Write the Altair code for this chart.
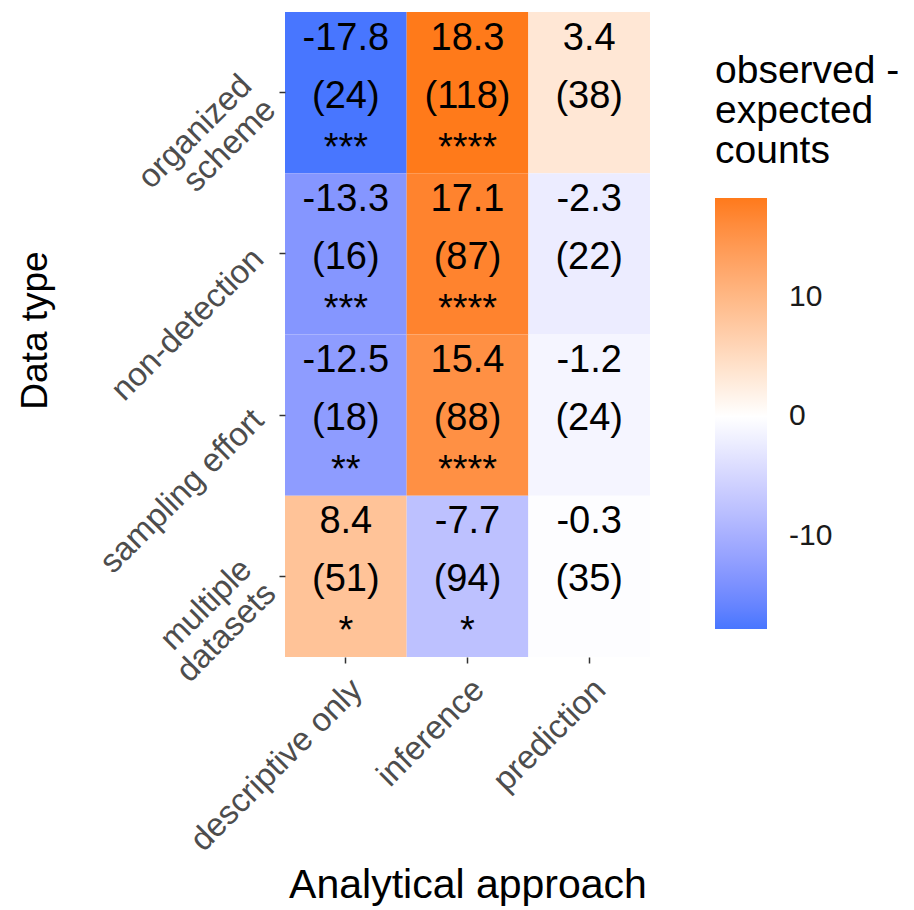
import altair as alt
import pandas as pd

data_types = ["organized scheme", "non-detection", "sampling effort", "multiple datasets"]
approaches = ["descriptive only", "inference", "prediction"]

# observed - expected, per data type (rows) x approach (cols)
diff_values = [
    [-17.8, 18.3, 3.4],
    [-13.3, 17.1, -2.3],
    [-12.5, 15.4, -1.2],
    [8.4, -7.7, -0.3],
]
observed_counts = [
    [24, 118, 38],
    [16, 87, 22],
    [18, 88, 24],
    [51, 94, 35],
]
significance = [
    ["***", "****", ""],
    ["***", "****", ""],
    ["**", "****", ""],
    ["*", "*", ""],
]

rows = []
for i, dt in enumerate(data_types):
    for j, ap in enumerate(approaches):
        rows.append({
            "data_type": dt,
            "approach": ap,
            "diff": diff_values[i][j],
            "diff_label": f"{diff_values[i][j]:.1f}",
            "count_label": f"({observed_counts[i][j]})",
            "stars": significance[i][j],
        })
df = pd.DataFrame(rows)

FONT = "Liberation Sans"
MULTI = "datum.value == 'organized scheme' || datum.value == 'multiple datasets'"

x_enc = alt.X(
    "approach:N",
    sort=approaches,
    title="Analytical approach",
    axis=alt.Axis(
        labelAngle=-45, labelAlign="right", labelBaseline="top",
        labelFontSize=33, labelColor="#4d4d4d", labelPadding=10, labelLimit=500,
        ticks=True, tickColor="#333333", tickSize=6, tickWidth=1.5,
        domain=False, grid=False,
        titleFontSize=41, titleFontWeight="normal", titleColor="black",
        titleY=228, titleBaseline="middle",
    ),
)
y_enc = alt.Y(
    "data_type:N",
    sort=data_types,
    title="Data type",
    axis=alt.Axis(
        labelAngle=-45, labelAlign="right",
        labelBaseline={"condition": {"test": MULTI, "value": "bottom"}, "value": "middle"},
        labelFontSize=33, labelColor="#4d4d4d", labelPadding=21, labelLimit=500,
        labelLineHeight=34,
        labelExpr="datum.value == 'organized scheme' ? ['organized', 'scheme'] : datum.value == 'multiple datasets' ? ['multiple', 'datasets'] : datum.label",
        ticks=True, tickColor="#333333", tickSize=6, tickWidth=1.5,
        domain=False, grid=False,
        titleFontSize=37, titleFontWeight="normal", titleColor="black",
        titleX=-250, titleY=318, titleAngle=-90, titleBaseline="middle",
    ),
)

color_enc = alt.Color(
    "diff:Q",
    scale=alt.Scale(
        domain=[-17.8, 0, 18.3],
        range=["#4876FF", "#FFFFFF", "#FF7A1A"],
        interpolate="lab",
    ),
    legend=alt.Legend(
        title=["observed -", "expected", "counts"],
        orient="none", legendX=430, legendY=40,
        direction="vertical",
        titleFontSize=39, titleFontWeight="normal", titleColor="black",
        titleLineHeight=40, titlePadding=27, titleLimit=300,
        gradientLength=431, gradientThickness=52,
        gradientStrokeWidth=0,
        values=[-10, 0, 10],
        labelExpr="datum.value + ''",
        labelFontSize=30, labelColor="#1a1a1a", labelOffset=22,
    ),
)

base = alt.Chart(df).encode(x=x_enc, y=y_enc)

rect = base.mark_rect().encode(color=color_enc)
t1 = base.mark_text(fontSize=38, font=FONT, color="black", baseline="middle", yOffset=-54).encode(text="diff_label:N")
t2 = base.mark_text(fontSize=38, font=FONT, color="black", baseline="middle", yOffset=4).encode(text="count_label:N")
t3 = base.mark_text(fontSize=38, font=FONT, color="black", baseline="middle", yOffset=56).encode(text="stars:N")

chart = (
    alt.layer(rect, t1, t2, t3)
    .properties(
        width=365, height=645,
        autosize=alt.AutoSizeParams(type="none"),
        padding={"left": 285, "top": 12, "right": 264, "bottom": 253},
        background="white",
    )
    .configure_view(stroke=None)
    .configure_axis(labelFont=FONT, titleFont=FONT)
    .configure_legend(labelFont=FONT, titleFont=FONT)
    .configure_scale(bandPaddingInner=0, bandPaddingOuter=0)
)

chart.save("out.html", embed_options={"renderer": "svg", "actions": False})
